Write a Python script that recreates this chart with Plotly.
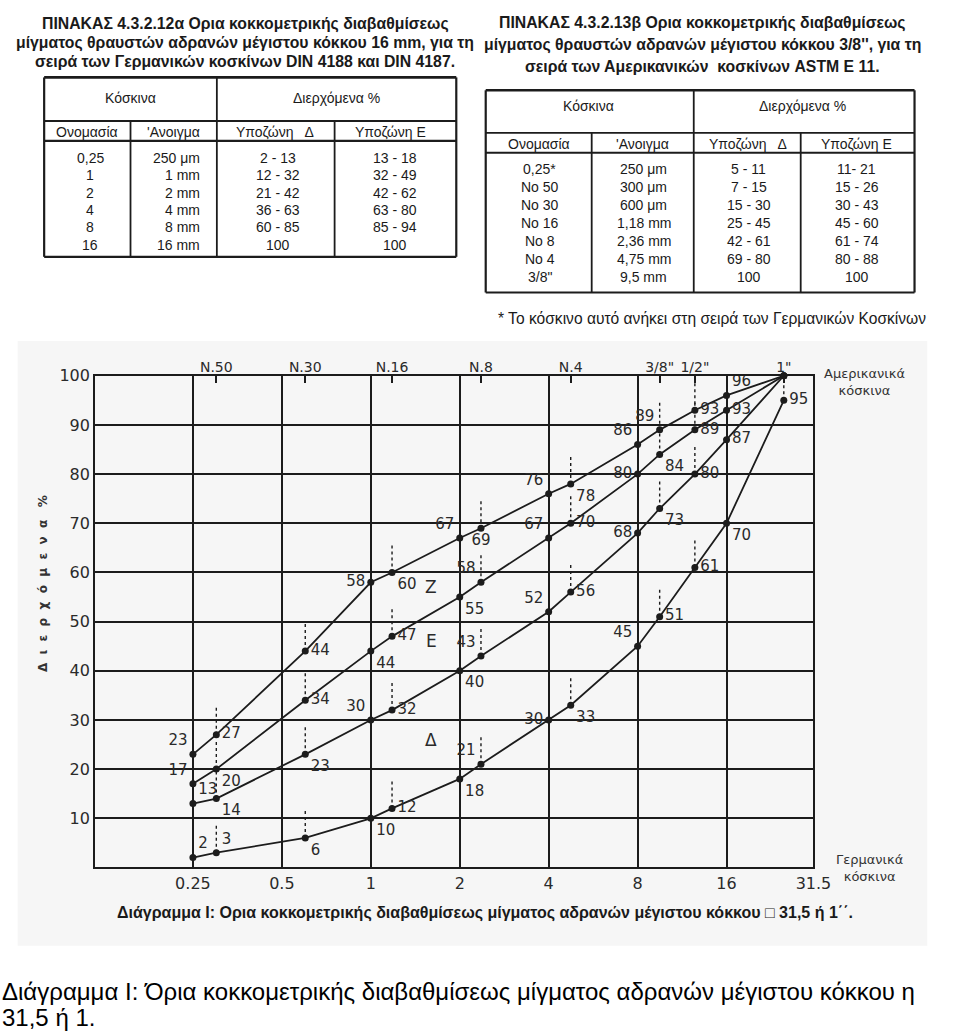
import numpy as np
import plotly.graph_objects as go

# ---------------- data ----------------
sizes = [0.25, 0.3, 0.6, 1, 1.18, 2, 2.36, 4, 4.75, 8, 9.5, 12.5, 16, 25]
is_american = [False, True, True, False, True, False, True, False, True, False, True, True, False, True]
curve_z_top = [23, 27, 44, 58, 60, 67, 69, 76, 78, 86, 89, 93, 96, 100]
curve_z_e = [17, 20, 34, 44, 47, 55, 58, 67, 70, 80, 84, 89, 93, 100]
curve_e_d = [13, 14, 23, 30, 32, 40, 43, 52, 56, 68, 73, 80, 87, 100]
curve_d_bottom = [2, 3, 6, 10, 12, 18, 21, 30, 33, 45, 51, 61, 70, 95]
show_label_top = [True] * 13 + [False]
show_label_bottom = [True] * 14

german_ticks = [0.25, 0.5, 1, 2, 4, 8, 16, 31.5]
german_labels = ["0.25", "0.5", "1", "2", "4", "8", "16", "31.5"]
american_ticks = [0.3, 0.6, 1.18, 2.36, 4.75, 9.5, 12.5, 25]
american_labels = ["N.50", "N.30", "N.16", "N.8", "N.4", "3/8\"", "1/2\"", "1\""]
y_ticks = [10, 20, 30, 40, 50, 60, 70, 80, 90, 100]

zone_names = ["Z", "E", "Δ"]
zone_x = [1.6, 1.6, 1.6]
zone_y = [57, 46, 26]

t1_title = ["ΠΙΝΑΚΑΣ 4.3.2.12α Ορια κοκκομετρικής διαβαθμίσεως",
            "μίγματος θραυστών αδρανών μέγιστου κόκκου 16 mm, για τη",
            "σειρά των Γερμανικών κοσκίνων DIN 4188 και DIN 4187."]
t1_names = ["0,25", "1", "2", "4", "8", "16"]
t1_open = ["250 μm", "1 mm", "2 mm", "4 mm", "8 mm", "16 mm"]
t1_zone_d = ["2 - 13", "12 - 32", "21 - 42", "36 - 63", "60 - 85", "100"]
t1_zone_e = ["13 - 18", "32 - 49", "42 - 62", "63 - 80", "85 - 94", "100"]

t2_title = ["ΠΙΝΑΚΑΣ 4.3.2.13β Ορια κοκκομετρικής διαβαθμίσεως",
            "μίγματος θραυστών αδρανών μέγιστου κόκκου 3/8'', για τη",
            "σειρά των Αμερικανικών  κοσκίνων ASTM E 11."]
t2_names = ["0,25*", "No 50", "No 30", "No 16", "No 8", "No 4", "3/8\""]
t2_open = ["250 μm", "300 μm", "600 μm", "1,18 mm", "2,36 mm", "4,75 mm", "9,5 mm"]
t2_zone_d = ["5 - 11", "7 - 15", "15 - 30", "25 - 45", "42 - 61", "69 - 80", "100"]
t2_zone_e = ["11- 21", "15 - 26", "30 - 43", "45 - 60", "61 - 74", "80 - 88", "100"]
t2_note = "* Το κόσκινο αυτό ανήκει στη σειρά των Γερμανικών Κοσκίνων"

header_sieves = "Κόσκινα"
header_pass = "Διερχόμενα %"
sub_headers = ["Ονομασία", "'Ανοιγμα", "Υποζώνη   Δ", "Υποζώνη Ε"]

chart_caption = "Διάγραμμα Ι: Ορια κοκκομετρικής διαβαθμίσεως μίγματος αδρανών μέγιστου κόκκου □ 31,5 ή 1΄΄."
page_caption_1 = "Διάγραμμα Ι: Όρια κοκκομετρικής διαβαθμίσεως μίγματος αδρανών μέγιστου κόκκου η"
page_caption_2 = "31,5 ή 1."
y_title = "\u00a0\u00a0".join(list("Διερχόμενα")) + "\u00a0\u00a0\u00a0%"
top_right_label = "Αμερικανικά<br>κόσκινα"
bottom_right_label = "Γερμανικά<br>κόσκινα"

# ---------------- styles ----------------
W, H = 960, 1032
INK = "#1c1c1c"
HAND = "DejaVu Sans, sans-serif"
ARIAL = "Liberation Sans, Arial, sans-serif"

pos_top = ['top left', 'middle right', 'middle right', 'middle left', 'bottom right', 'top left',
           'bottom center', 'top left', 'bottom right', 'top left', 'top left', 'middle right',
           'top right', 'middle right']
pos_ze = ['top left', 'bottom right', 'middle right', 'bottom right', 'middle right', 'bottom right',
          'top left', 'top left', 'middle right', 'middle left', 'bottom right', 'middle right',
          'middle right', 'middle right']
pos_ed = ['top right', 'bottom right', 'bottom right', 'top left', 'middle right', 'bottom right',
          'top left', 'top left', 'middle right', 'middle left', 'bottom right', 'middle right',
          'middle right', 'middle right']
pos_bot = ['top right', 'top right', 'bottom right', 'bottom right', 'middle right', 'bottom right',
           'top left', 'middle left', 'bottom right', 'top left', 'middle right', 'middle right',
           'bottom right', 'middle right']


def px(x):
    return x / W


def py(y):
    return 1 - y / H


fig = go.Figure()

curves = [(curve_z_top, pos_top, show_label_top),
          (curve_z_e, pos_ze, show_label_top),
          (curve_e_d, pos_ed, show_label_top),
          (curve_d_bottom, pos_bot, show_label_bottom)]

for vals, pos, show in curves:
    # dashed marks above the points at the American sieves
    dx, dy = [], []
    for s, v, a in zip(sizes, vals, is_american):
        if a:
            dx += [s, s, None]
            dy += [v, min(v + 6, 100), None]
    fig.add_trace(go.Scatter(x=dx, y=dy, mode="lines", xaxis="x2", yaxis="y",
                             line=dict(color=INK, width=1.4, dash="3px,3px"),
                             hoverinfo="skip"))
    fig.add_trace(go.Scatter(
        x=sizes, y=vals, mode="lines+markers+text",
        line=dict(color=INK, width=1.8),
        marker=dict(color=INK, size=7),
        text=[str(v) if sh else "" for v, sh in zip(vals, show)],
        textposition=pos,
        textfont=dict(family=HAND, size=15, color="#2a2a2a"),
        cliponaxis=False,
    ))

xr = [np.log10(0.1167), np.log10(31.5)]

fig.update_layout(
    width=W, height=H, autosize=False,
    margin=dict(l=0, r=0, t=0, b=0),
    paper_bgcolor="white", plot_bgcolor="rgba(0,0,0,0)",
    showlegend=False,
    xaxis=dict(type="log", range=xr, domain=[97 / W, 829 / W], anchor="y",
               tickvals=german_ticks, ticktext=german_labels,
               showgrid=True, gridcolor=INK, gridwidth=1.6,
               showline=True, linecolor=INK, linewidth=2, mirror=True,
               ticks="", zeroline=False,
               tickfont=dict(family=HAND, size=16, color="#2a2a2a")),
    xaxis2=dict(type="log", range=xr, overlaying="x", side="top", anchor="y",
                tickvals=american_ticks, ticktext=american_labels,
                showgrid=False, showline=False, zeroline=False,
                ticks="inside", ticklen=7, tickwidth=1.5, tickcolor=INK,
                tickfont=dict(family=HAND, size=14, color="#2a2a2a")),
    yaxis=dict(range=[0, 100], domain=[1 - 866 / H, 1 - 370 / H],
               tickvals=y_ticks, ticktext=[str(v) for v in y_ticks],
               showgrid=True, gridcolor=INK, gridwidth=1.6,
               showline=True, linecolor=INK, linewidth=2, mirror=True,
               ticks="", zeroline=False,
               tickfont=dict(family=HAND, size=16, color="#2a2a2a")),
)

shapes = []
ann = []

# scanned background of the diagram
shapes.append(dict(type="rect", xref="paper", yref="paper", layer="below",
                   x0=px(18), x1=px(945), y0=py(945), y1=py(335),
                   fillcolor="#f6f6f6", line=dict(width=0)))


def hline(x0, x1, y, w=1.8):
    shapes.append(dict(type="line", xref="paper", yref="paper", x0=px(x0), x1=px(x1),
                       y0=py(y), y1=py(y), line=dict(color=INK, width=w)))


def vline(x, y0, y1, w=1.8):
    shapes.append(dict(type="line", xref="paper", yref="paper", x0=px(x), x1=px(x),
                       y0=py(y0), y1=py(y1), line=dict(color=INK, width=w)))


def text(x, y, s, size=14, anchor="center", bold=False, family=ARIAL, color="#1a1a1a", angle=0):
    ann.append(dict(xref="paper", yref="paper", x=px(x), y=py(y), text=("<b>%s</b>" % s) if bold else s,
                    showarrow=False, xanchor=anchor, yanchor="middle", textangle=angle,
                    font=dict(family=family, size=size, color=color)))


# ---------- table 1 ----------
for line, yy in zip(t1_title, [15, 34, 53]):
    text(250, yy, line, size=15.8, bold=True)
L, T, R, B = 45, 69, 465, 250
hline(L, R, T, 2.6); hline(L, R, B, 2.2); hline(L, R, 113); hline(L, R, 133, 2.2)
vline(L, T, B, 2.2); vline(R, T, B, 2.2); vline(221, T, B); vline(133, 113, B); vline(341, 113, B)
text(133, 90, header_sieves); text(343, 90, header_pass)
for s, xx in zip(sub_headers, [89, 177, 280, 398]):
    text(xx, 124, s)
for k in range(len(t1_names)):
    yy = 150 + k * 17.6
    text(92, yy, t1_names[k])
    text(206, yy, t1_open[k], anchor="right")
    text(283, yy, t1_zone_d[k])
    text(403, yy, t1_zone_e[k])

# ---------- table 2 ----------
for line, yy in zip(t2_title, [14, 36, 58]):
    text(716, yy, line, size=15.8, bold=True)
L, T, R, B = 495, 82, 932, 286
hline(L, R, T, 2.6); hline(L, R, B, 2.2); hline(L, R, 125); hline(L, R, 145, 2.2)
vline(L, T, B, 2.2); vline(R, T, B, 2.2); vline(707, T, B); vline(603, 125, B); vline(816, 125, B)
text(600, 98, header_sieves); text(818, 98, header_pass)
for s, xx in zip(sub_headers, [549, 655, 762, 873]):
    text(xx, 136, s)
for k in range(len(t2_names)):
    yy = 161 + k * 18.2
    text(550, yy, t2_names[k])
    text(656, yy, t2_open[k])
    text(763, yy, t2_zone_d[k])
    text(873, yy, t2_zone_e[k])
text(505, 312, t2_note, size=15.6, anchor="left")

# ---------- diagram texts ----------
for nm, zx, zy in zip(zone_names, zone_x, zone_y):
    ann.append(dict(xref="x", yref="y", x=np.log10(zx), y=zy, text=nm, showarrow=False,
                    font=dict(family=HAND, size=17, color="#2a2a2a")))
text(44, 580, y_title, size=12, angle=-90, family=HAND, bold=True, color="#333")
text(838, 376, top_right_label, size=13, anchor="left", family=HAND, color="#333")
text(850, 867, bottom_right_label, size=13, anchor="left", family=HAND, color="#333")
text(494, 912, chart_caption, size=16, bold=True)

# ---------- page caption ----------
text(0, 991, page_caption_1, size=24, anchor="left", family=ARIAL, color="black")
text(0, 1017, page_caption_2, size=24, anchor="left", family=ARIAL, color="black")

fig.update_layout(shapes=shapes, annotations=ann)
fig.write_html(
    "out.html",
    config={"displayModeBar": False},
    post_script=("document.documentElement.style.margin='0px';"
                 "document.body.style.margin='0px';document.body.style.overflow='hidden';"
                 "var gd=document.getElementById('{plot_id}');"
                 "gd.style.position='absolute';gd.style.top='0px';gd.style.left='0px';"),
)
